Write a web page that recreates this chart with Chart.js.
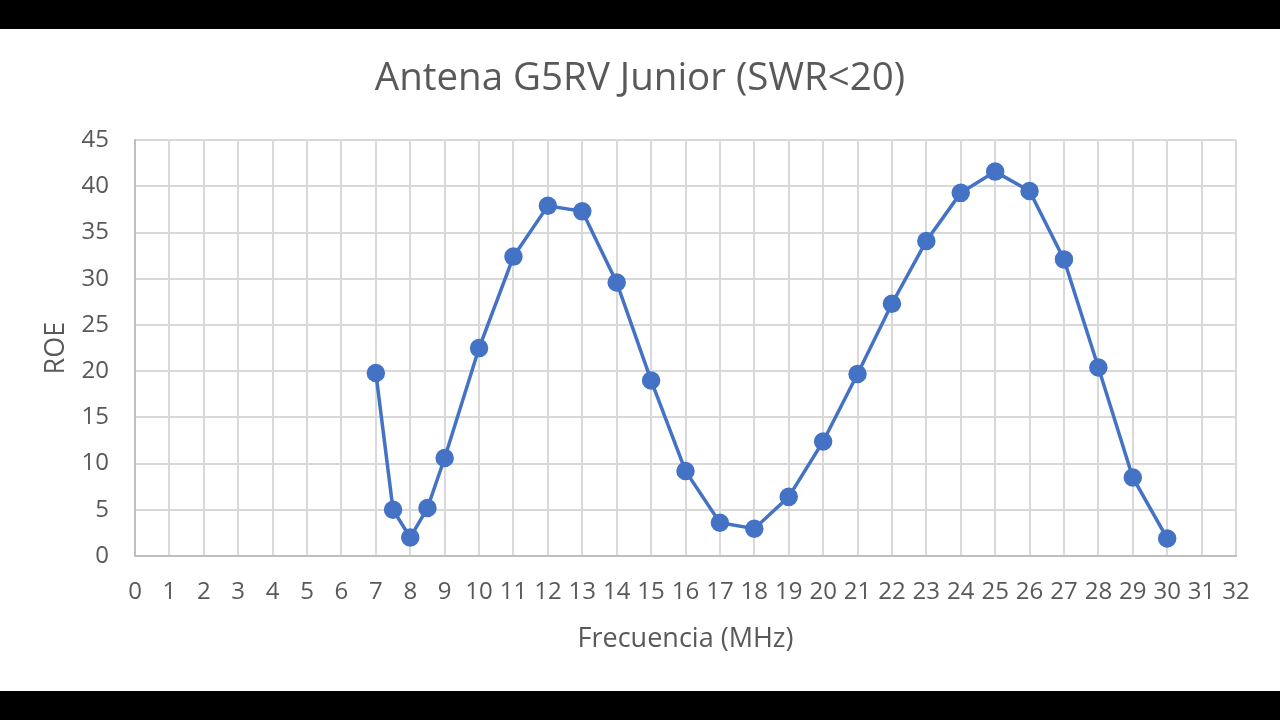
<!DOCTYPE html>
<html>
<head>
<meta charset="utf-8">
<script src="https://cdn.jsdelivr.net/npm/chart.js@4/dist/chart.umd.min.js"></script>
<style>
  html, body { margin: 0; padding: 0; background: #000; width: 1280px; height: 720px; overflow: hidden; }
  #wrap { position: absolute; left: 0; top: 29px; width: 1280px; height: 662px; background: #fff; }
  canvas { display: block; }
</style>
</head>
<body>
<div id="wrap"><canvas id="c" width="1280" height="662"></canvas></div>
<script>
const chartTitle = "Antena G5RV Junior (SWR<20)";
const xAxisTitle = "Frecuencia (MHz)";
const yAxisTitle = "ROE";
const frequencies = [7, 7.5, 8, 8.5, 9, 10, 11, 12, 13, 14, 15, 16, 17, 18, 19, 20, 21, 22, 23, 24, 25, 26, 27, 28, 29, 30];
const roeValues   = [19.8, 5.0, 2.0, 5.2, 10.6, 22.5, 32.4, 37.9, 37.3, 29.6, 19.0, 9.2, 3.6, 2.95, 6.4, 12.4, 19.7, 27.3, 34.1, 39.3, 41.6, 39.5, 32.1, 20.4, 8.5, 1.9];
const xMin = 0, xMax = 32, xStep = 1;
const yMin = 0, yMax = 45, yStep = 5;

const points = frequencies.map((f, i) => ({ x: f, y: roeValues[i] }));
const fontFamily = "'Open Sans', 'Noto Sans', sans-serif";
const textColor = "#595959";

new Chart(document.getElementById('c'), {
  type: 'scatter',
  data: {
    datasets: [{
      data: points,
      showLine: true,
      borderColor: '#4472C4',
      backgroundColor: '#4472C4',
      borderWidth: 3.5,
      pointRadius: 7.5,
      pointHoverRadius: 7.5,
      tension: 0
    }]
  },
  options: {
    responsive: false,
    animation: false,
    layout: { padding: { left: 0, right: 0, top: 0, bottom: 0 } },
    plugins: {
      legend: { display: false },
      tooltip: { enabled: false },
      title: {
        display: true,
        text: chartTitle,
        color: textColor,
        font: { family: fontFamily, size: 38.5, weight: 'normal' },
        padding: { top: 27, bottom: 38 }
      }
    },
    scales: {
      x: {
        type: 'linear',
        min: xMin, max: xMax,
        afterFit: (s) => { s.height = 135; },
        ticks: { stepSize: xStep, color: textColor, font: { family: fontFamily, size: 24 }, padding: 22, maxRotation: 0, autoSkip: false },
        grid: { color: '#d9d9d9', lineWidth: 2, drawTicks: false },
        border: { color: '#bfbfbf', width: 2 },
        title: { display: true, text: xAxisTitle, color: textColor, font: { family: fontFamily, size: 27 }, padding: { top: 0, bottom: 35 } }
      },
      y: {
        min: yMin, max: yMax,
        afterFit: (s) => { s.width = 135; },
        ticks: { stepSize: yStep, color: textColor, font: { family: fontFamily, size: 24 }, padding: 26 },
        grid: { color: '#d9d9d9', lineWidth: 2, drawTicks: false },
        border: { color: '#bfbfbf', width: 2 },
        title: { display: true, text: yAxisTitle, color: textColor, font: { family: fontFamily, size: 27 }, padding: { top: 40, bottom: 0 } }
      },
      yRightSpace: {
        position: 'right',
        display: true,
        min: yMin, max: yMax,
        afterFit: (s) => { s.width = 44; },
        ticks: { display: false },
        grid: { display: false, drawTicks: false },
        border: { display: false }
      }
    }
  }
});
</script>
</body>
</html>
